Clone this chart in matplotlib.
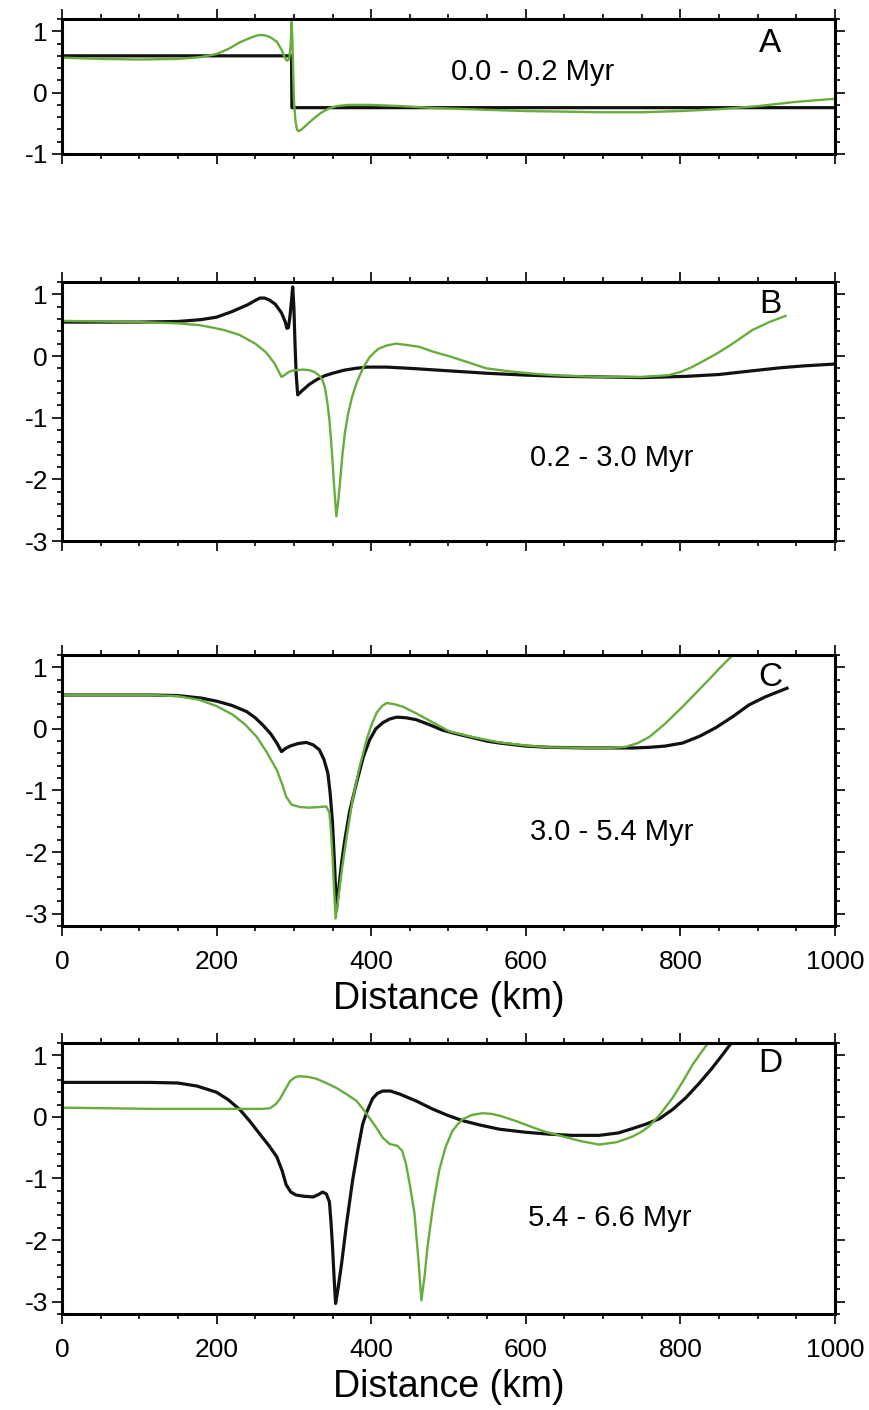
import matplotlib.pyplot as plt
from matplotlib.ticker import MultipleLocator

# --- panel A: 0.0 - 0.2 Myr ---
xa_black = [0, 297, 297.5, 1000]
ya_black = [0.6, 0.6, -0.245, -0.245]
xa_green = [0, 50, 100, 150, 180, 200, 215, 230, 245, 252, 258, 264, 270, 278, 284, 288, 291, 294, 296, 297,
            298, 299, 300, 302, 304, 306, 310, 317, 325, 335, 345, 355, 370, 400, 440, 480, 550, 600, 650, 700,
            750, 800, 850, 900, 950, 1000]
ya_green = [0.57, 0.55, 0.54, 0.55, 0.58, 0.63, 0.71, 0.82, 0.9, 0.93, 0.94, 0.93, 0.9, 0.83, 0.7, 0.58, 0.52, 0.55, 0.8, 1.15,
            0.9, 0.4, -0.1, -0.45, -0.6, -0.63, -0.6, -0.52, -0.43, -0.33, -0.26, -0.22, -0.2, -0.2, -0.22, -0.25, -0.28, -0.3, -0.31, -0.32,
            -0.32, -0.3, -0.27, -0.22, -0.15, -0.1]

# --- panel B: 0.2 - 3.0 Myr ---
xb_black = [0, 100, 150, 180, 200, 220, 240, 250, 256, 262, 268, 276, 284, 289, 291, 293, 295, 297, 298.5, 300,
            301.5, 303, 305, 310, 320, 330, 340, 350, 365, 380, 394, 420, 450, 500, 550, 600, 650, 700, 750, 807,
            850, 893, 930, 960, 1000]
yb_black = [0.55, 0.55, 0.56, 0.59, 0.63, 0.72, 0.83, 0.9, 0.94, 0.94, 0.91, 0.84, 0.7, 0.55, 0.45, 0.46, 0.65, 0.9, 1.12, 0.8,
            0.2, -0.3, -0.63, -0.57, -0.46, -0.38, -0.32, -0.28, -0.23, -0.2, -0.18, -0.18, -0.2, -0.24, -0.28, -0.31, -0.33, -0.34, -0.35, -0.33,
            -0.3, -0.24, -0.19, -0.16, -0.13]
xb_green = [0, 100, 150, 178, 195, 210, 230, 250, 264, 275, 280, 284, 288, 292, 297, 303, 312, 320, 327, 333,
            337, 340, 342, 344, 346, 348, 350, 352, 355, 357, 359, 363, 366, 370, 375, 381, 390, 398, 405, 410,
            420, 432, 445, 462, 480, 500, 520, 549, 580, 613, 650, 700, 750, 785, 800, 815, 830, 850, 870, 893,
            915, 936]
yb_green = [0.57, 0.55, 0.53, 0.5, 0.46, 0.42, 0.34, 0.2, 0.06, -0.12, -0.24, -0.34, -0.31, -0.27, -0.24, -0.23, -0.22, -0.23, -0.26, -0.32,
            -0.39, -0.5, -0.65, -0.82, -1.04, -1.35, -1.7, -2.1, -2.6, -2.4, -2.15, -1.58, -1.25, -0.95, -0.68, -0.44, -0.18, -0.02, 0.07, 0.12,
            0.17, 0.2, 0.18, 0.15, 0.07, 0.0, -0.08, -0.2, -0.25, -0.29, -0.32, -0.34, -0.34, -0.31, -0.26, -0.18, -0.08, 0.06, 0.22, 0.42,
            0.55, 0.65]

# --- panel C: 3.0 - 5.4 Myr ---
xc_black = [0, 114, 150, 180, 200, 220, 239, 250, 260, 270, 278, 284, 289, 295, 305, 316, 325, 333, 339, 344,
            347, 350, 353, 355, 358, 362, 366, 372, 381, 390, 398, 406, 415, 424, 433, 445, 458, 475, 492, 510,
            530, 550, 566, 600, 630, 680, 717, 740, 760, 780, 803, 825, 846, 868, 889, 910, 932, 938]
yc_black = [0.55, 0.55, 0.54, 0.5, 0.45, 0.38, 0.28, 0.18, 0.06, -0.08, -0.23, -0.37, -0.32, -0.28, -0.24, -0.22, -0.26, -0.34, -0.5, -0.72,
            -1.05, -1.52, -2.3, -2.95, -2.6, -2.15, -1.8, -1.35, -0.88, -0.45, -0.18, 0.0, 0.1, 0.16, 0.19, 0.18, 0.15, 0.07, -0.02, -0.08,
            -0.14, -0.2, -0.23, -0.28, -0.3, -0.31, -0.31, -0.31, -0.3, -0.28, -0.23, -0.12, 0.02, 0.2, 0.39, 0.52, 0.63, 0.66]
xc_green = [0, 114, 150, 178, 200, 221, 237, 252, 265, 278, 285, 290, 297, 308, 320, 332, 342, 346, 348, 350,
            352, 354, 358, 362, 369, 376, 385, 394, 400, 407, 414, 420, 430, 441, 460, 479, 501, 530, 566, 600,
            630, 680, 710, 730, 745, 760, 780, 803, 820, 837, 852, 868]
yc_green = [0.55, 0.55, 0.53, 0.47, 0.37, 0.23, 0.07, -0.13, -0.38, -0.67, -0.9, -1.1, -1.23, -1.27, -1.28, -1.27, -1.26, -1.36, -1.65, -2.07,
            -2.6, -3.08, -2.7, -2.3, -1.7, -1.15, -0.62, -0.18, 0.05, 0.26, 0.37, 0.42, 0.4, 0.36, 0.24, 0.11, -0.04, -0.13, -0.22, -0.27,
            -0.3, -0.31, -0.31, -0.29, -0.23, -0.13, 0.08, 0.36, 0.58, 0.8, 1.0, 1.2]

# --- panel D: 5.4 - 6.6 Myr ---
xd_black = [0, 114, 150, 175, 200, 215, 230, 243, 256, 268, 278, 285, 290, 296, 303, 314, 325, 332, 337, 342,
            346, 348, 350, 352, 354, 357, 362, 368, 376, 383, 389, 395, 402, 408, 415, 425, 437, 458, 479, 498,
            518, 540, 566, 600, 630, 660, 695, 720, 738, 755, 773, 790, 807, 824, 841, 854, 866]
yd_black = [0.56, 0.56, 0.55, 0.5, 0.4, 0.28, 0.12, -0.07, -0.28, -0.47, -0.65, -0.88, -1.1, -1.22, -1.27, -1.29, -1.3, -1.26, -1.22, -1.25,
            -1.38, -1.7, -2.1, -2.6, -3.03, -2.8, -2.36, -1.75, -1.03, -0.52, -0.12, 0.1, 0.3, 0.38, 0.42, 0.42, 0.37, 0.26, 0.13, 0.03,
            -0.06, -0.13, -0.2, -0.25, -0.28, -0.3, -0.3, -0.26, -0.19, -0.12, -0.03, 0.12, 0.31, 0.54, 0.79, 1.0, 1.2]
xd_green = [0, 60, 114, 200, 260, 269, 276, 282, 289, 295, 301, 307, 318, 329, 342, 355, 368, 381, 390, 398,
            407, 415, 424, 434, 440, 445, 450, 456, 461, 465, 469, 473, 480, 488, 496, 505, 512, 518, 530, 544,
            555, 566, 588, 609, 625, 643, 670, 695, 718, 738, 750, 760, 775, 790, 803, 816, 826, 836]
yd_green = [0.15, 0.14, 0.13, 0.13, 0.13, 0.14, 0.2, 0.29, 0.45, 0.58, 0.64, 0.66, 0.65, 0.62, 0.55, 0.47, 0.37, 0.26, 0.12, -0.02,
            -0.18, -0.34, -0.44, -0.47, -0.55, -0.76, -1.1, -1.56, -2.3, -2.98, -2.6, -2.1, -1.45, -0.87, -0.5, -0.23, -0.12, -0.04, 0.03, 0.06,
            0.05, 0.02, -0.07, -0.17, -0.24, -0.3, -0.39, -0.45, -0.41, -0.32, -0.24, -0.15, 0.06, 0.31, 0.57, 0.85, 1.03, 1.2]

letters = ["A", "B", "C", "D"]
times = ["0.0 - 0.2 Myr", "0.2 - 3.0 Myr", "3.0 - 5.4 Myr", "5.4 - 6.6 Myr"]

plt.rcParams['font.family'] = ['Liberation Sans', 'DejaVu Sans']
plt.rcParams['axes.unicode_minus'] = False

fig = plt.figure(figsize=(8.69, 14.1), dpi=100)

# axes boxes (left, bottom, width, height) in figure fractions
boxes = [
    [0.0713, 0.8908, 0.8895, 0.0957],
    [0.0713, 0.6163, 0.8895, 0.1837],
    [0.0713, 0.3433, 0.8895, 0.1922],
    [0.0713, 0.0681, 0.8895, 0.1922],
]
ylims = [(-1, 1.2), (-3, 1.2), (-3.2, 1.2), (-3.2, 1.2)]
letter_y = [0.82, 0.915, 0.915, 0.926]
time_pos = [(0.609, 0.607), (0.711, 0.32), (0.711, 0.347), (0.709, 0.354)]

blacks = [(xa_black, ya_black), (xb_black, yb_black), (xc_black, yc_black), (xd_black, yd_black)]
greens = [(xa_green, ya_green), (xb_green, yb_green), (xc_green, yc_green), (xd_green, yd_green)]

green = '#67ad3b'

for i in range(4):
    ax = fig.add_axes(boxes[i])
    ax.plot(blacks[i][0], blacks[i][1], color='#111111', lw=2.3, solid_joinstyle='round')
    ax.plot(greens[i][0], greens[i][1], color=green, lw=1.7, solid_joinstyle='round')
    ax.set_xlim(0, 1000)
    ax.set_ylim(ylims[i])
    ax.xaxis.set_major_locator(MultipleLocator(200))
    ax.xaxis.set_minor_locator(MultipleLocator(50))
    ax.yaxis.set_major_locator(MultipleLocator(1))
    ax.yaxis.set_minor_locator(MultipleLocator(0.2))
    ax.tick_params(which='both', direction='out', top=True, right=True, width=1.2, labelsize=19, pad=3)
    ax.tick_params(axis='x', which='major', pad=10)
    ax.tick_params(which='major', length=7)
    ax.tick_params(which='minor', length=3.5)
    for s in ax.spines.values():
        s.set_linewidth(2.2)
    if i < 2:
        ax.tick_params(labelbottom=False)
    else:
        ax.set_xlabel("Distance (km)", fontsize=27, labelpad=5)
    ax.text(0.916, letter_y[i], letters[i], transform=ax.transAxes, fontsize=24, ha='center', va='center')
    ax.text(time_pos[i][0], time_pos[i][1], times[i], transform=ax.transAxes, fontsize=21, ha='center', va='center')

fig.savefig("out.png", dpi=100)
